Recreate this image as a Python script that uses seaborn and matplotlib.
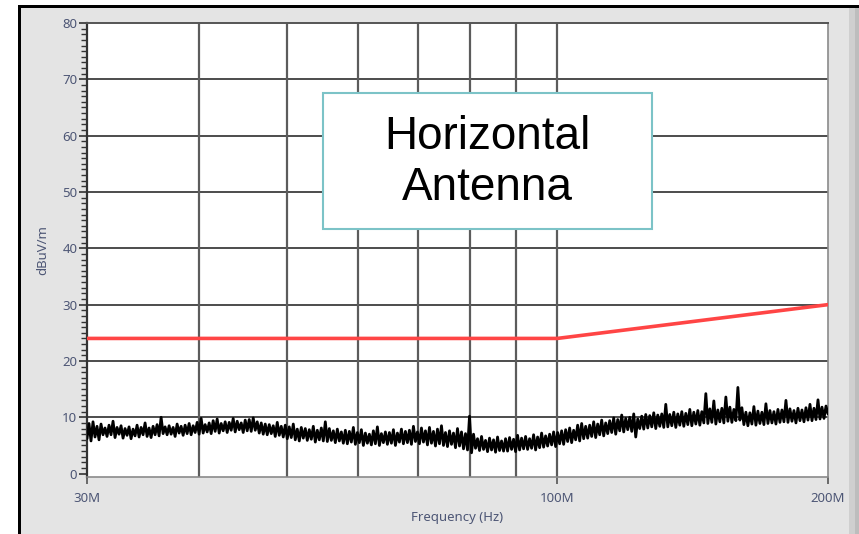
import numpy as np
import pandas as pd
import seaborn as sns
import matplotlib
matplotlib.use("Agg")
import matplotlib.pyplot as plt
from matplotlib.patches import Rectangle
from matplotlib.ticker import FixedLocator, NullFormatter, FixedFormatter

# ---- measured emission sweep (dBuV/m), 30 MHz .. 200 MHz, log-spaced sweep points ----
level_dbuv = [
    6.2, 8.9, 5.8, 9.2, 6.5, 8.4, 6.0, 8.8, 6.9, 8.1,
    6.6, 8.6, 6.9, 9.3, 6.4, 8.2, 7.0, 8.5, 6.3, 8.0,
    6.8, 8.3, 6.2, 7.9, 6.7, 8.6, 6.5, 8.2, 6.9, 9.0,
    6.6, 8.1, 6.4, 8.4, 6.9, 8.7, 6.7, 10.0, 7.1, 8.3,
    6.9, 8.5, 7.0, 8.2, 6.6, 8.8, 7.2, 8.4, 6.8, 8.6,
    7.1, 8.9, 6.9, 8.5, 7.3, 9.1, 7.0, 9.8, 7.2, 8.7,
    7.4, 9.0, 7.1, 9.4, 7.5, 9.7, 7.2, 8.9, 7.6, 9.2,
    7.3, 9.1, 7.7, 9.8, 7.4, 9.3, 7.8, 9.0, 7.3, 9.5,
    7.6, 9.6, 7.5, 9.9, 7.7, 9.2, 7.2, 9.0, 7.0, 8.8,
    6.9, 8.7, 7.1, 8.5, 6.6, 9.1, 6.8, 8.4, 6.5, 8.6,
    6.2, 8.3, 6.4, 8.8, 6.0, 7.9, 5.8, 8.2, 6.3, 8.0,
    5.9, 7.8, 6.1, 8.4, 5.6, 7.7, 6.0, 8.1, 5.8, 9.2,
    5.7, 8.0, 5.9, 7.6, 5.5, 7.9, 5.8, 7.4, 5.4, 7.7,
    5.3, 7.5, 5.6, 8.2, 5.2, 7.3, 5.5, 7.8, 5.0, 7.2,
    5.4, 7.0, 5.1, 7.6, 5.3, 8.3, 5.0, 7.1, 5.5, 7.4,
    5.2, 7.3, 5.4, 7.8, 5.0, 7.2, 5.6, 7.9, 5.3, 7.5,
    5.5, 7.7, 5.2, 8.4, 5.7, 7.4, 5.3, 8.1, 5.6, 7.6,
    5.1, 8.2, 5.4, 7.5, 4.9, 7.9, 5.3, 8.5, 5.0, 7.3,
    4.8, 7.6, 5.2, 7.2, 4.6, 8.0, 4.9, 7.4, 4.4, 7.1,
    4.2, 10.2, 3.7, 7.0, 4.5, 6.2, 4.1, 6.6, 4.3, 5.9,
    3.9, 6.3, 4.2, 6.0, 3.8, 6.5, 4.1, 5.8, 4.0, 6.2,
    4.0, 6.4, 4.3, 6.1, 3.9, 6.8, 4.2, 6.3, 4.4, 6.6,
    4.3, 6.2, 4.5, 6.9, 4.2, 6.5, 4.6, 7.2, 4.7, 6.7,
    4.9, 7.0, 5.1, 7.4, 4.8, 7.3, 5.3, 7.6, 5.2, 7.8,
    5.7, 8.1, 5.5, 7.7, 6.0, 8.6, 5.8, 8.9, 6.2, 8.4,
    6.3, 8.6, 6.6, 9.2, 6.4, 8.8, 6.9, 9.5, 6.7, 9.0,
    7.1, 9.4, 7.3, 9.9, 7.0, 9.6, 7.6, 10.4, 7.4, 9.8,
    7.8, 10.0, 7.5, 10.6, 6.5, 9.7, 8.0, 10.2, 7.9, 10.5,
    8.1, 10.3, 8.3, 10.8, 8.0, 10.4, 8.4, 10.6, 8.2, 12.3,
    8.3, 10.5, 8.5, 10.9, 8.2, 10.6, 8.6, 11.0, 8.4, 10.7,
    8.7, 11.4, 8.5, 10.9, 8.8, 11.2, 8.6, 11.0, 9.0, 14.2,
    8.9, 11.5, 9.1, 12.9, 8.8, 11.3, 9.2, 11.6, 9.0, 13.6,
    9.3, 11.8, 9.1, 11.4, 9.4, 15.3, 9.5, 11.7, 8.7, 10.9,
    8.5, 10.8, 8.8, 11.9, 8.6, 11.1, 8.9, 10.9, 8.7, 12.4,
    8.9, 11.2, 9.0, 11.0, 8.8, 11.4, 9.1, 11.3, 9.2, 13.0,
    9.1, 11.5, 9.3, 11.2, 9.0, 11.6, 9.4, 11.3, 9.2, 11.7,
    9.5, 12.3, 9.4, 11.6, 9.6, 13.1, 9.7, 11.8, 9.8, 12.0,
    10.6,
]
sweep_start_hz = 30e6
sweep_stop_hz = 200e6

# ---- radiated emission limit line ----
limit_hz = [30e6, 100e6, 200e6]
limit_dbuv = [24, 24, 30]

# ---- axis ticks ----
major_ticks_hz = [30e6, 100e6, 200e6]
major_tick_labels = ["30M", "100M", "200M"]
minor_grid_hz = [40e6, 50e6, 60e6, 70e6, 80e6, 90e6]
y_ticks = [0, 10, 20, 30, 40, 50, 60, 70, 80]

sweep_hz = np.geomspace(sweep_start_hz, sweep_stop_hz, len(level_dbuv))
trace = pd.DataFrame({"freq": sweep_hz, "level": level_dbuv})
limit = pd.DataFrame({"freq": limit_hz, "level": limit_dbuv})

sns.set_style("white")
plt.rcParams["font.family"] = ["Noto Sans", "DejaVu Sans"]

W, H = 859, 534
fig = plt.figure(figsize=(W / 100, H / 100), dpi=100)
fig.patch.set_facecolor("white")

# window panel behind the graph
fig.add_artist(Rectangle((21 / W, 0), 1 - 21 / W, 1 - 7 / H, transform=fig.transFigure,
                         facecolor="#e4e4e4", edgecolor="none", zorder=-3))
fig.add_artist(Rectangle((849 / W, 0), 10 / W, 1 - 7 / H, transform=fig.transFigure,
                         facecolor="#cfcfcf", edgecolor="none", zorder=-2))
fig.add_artist(Rectangle((855 / W, 0), 4 / W, 1 - 7 / H, transform=fig.transFigure,
                         facecolor="#bdbdbd", edgecolor="none", zorder=-2))
fig.add_artist(Rectangle((18 / W, 0), 3 / W, 1 - 5 / H, transform=fig.transFigure,
                         facecolor="black", edgecolor="none", zorder=-1))
fig.add_artist(Rectangle((18 / W, 1 - 8 / H), 1 - 18 / W, 3 / H, transform=fig.transFigure,
                         facecolor="black", edgecolor="none", zorder=-1))

ax = fig.add_axes([87 / W, 57 / H, 741 / W, 454 / H])
ax.set_facecolor("white")

sns.lineplot(data=trace, x="freq", y="level", ax=ax, color="black", lw=2.0,
             estimator=None, sort=False, zorder=3)
sns.lineplot(data=limit, x="freq", y="level", ax=ax, color="#ff4545", lw=2.6,
             estimator=None, sort=False, zorder=4)

ax.set_xscale("log")
ax.set_xlim(sweep_start_hz, sweep_stop_hz)
ax.set_ylim(-0.6, 80)

ax.xaxis.set_major_locator(FixedLocator(major_ticks_hz))
ax.xaxis.set_major_formatter(FixedFormatter(major_tick_labels))
ax.xaxis.set_minor_locator(FixedLocator(minor_grid_hz))
ax.xaxis.set_minor_formatter(NullFormatter())
ax.yaxis.set_major_locator(FixedLocator(y_ticks))
ax.yaxis.set_minor_locator(FixedLocator(np.arange(0, 81, 1)))

label_color = "#4d5675"
ax.tick_params(axis="x", which="major", direction="out", length=5, width=1.2,
               color="#555555", labelsize=9.5, labelcolor=label_color, pad=6, bottom=True)
ax.tick_params(axis="x", which="minor", length=0, bottom=False)
ax.tick_params(axis="y", which="major", direction="out", length=6, width=1.2,
               color="#333333", labelsize=9.5, labelcolor=label_color, pad=1, left=True)
ax.tick_params(axis="y", which="minor", direction="out", length=4, width=1.0,
               color="#333333", left=True)

# grid: dark horizontals every 10 dB, grey verticals at decade subdivisions
for yv in y_ticks[1:-1]:
    ax.axhline(yv, color="#2e2e2e", lw=1.2, zorder=1)
for xv in minor_grid_hz + [100e6]:
    ax.axvline(xv, color="#5c5c5c", lw=1.6, zorder=1)

for side, col, lw in [("left", "#333333", 1.6), ("top", "#555555", 1.4),
                      ("right", "#8a8a8a", 1.2), ("bottom", "#8a8a8a", 1.2)]:
    ax.spines[side].set_visible(True)
    ax.spines[side].set_color(col)
    ax.spines[side].set_linewidth(lw)

ax.set_xlabel("Frequency (Hz)", fontsize=9.5, color=label_color, labelpad=4)
ax.set_ylabel("dBuV/m", fontsize=9.5, color=label_color, labelpad=9)

# antenna polarisation caption
box_x0, box_x1 = 0.3185, 0.7625
box_y0, box_y1 = 0.546, 0.845
ax.add_patch(Rectangle((box_x0, box_y0), box_x1 - box_x0, box_y1 - box_y0,
                       transform=ax.transAxes, facecolor="white",
                       edgecolor="#7cc3c7", lw=1.5, zorder=6))
ax.text((box_x0 + box_x1) / 2, (box_y0 + box_y1) / 2 - 0.003, "Horizontal\nAntenna",
        transform=ax.transAxes, ha="center", va="center", fontsize=33,
        family=["Liberation Sans", "DejaVu Sans"], color="black",
        linespacing=1.22, zorder=7)

fig.savefig("out.png", dpi=100)
